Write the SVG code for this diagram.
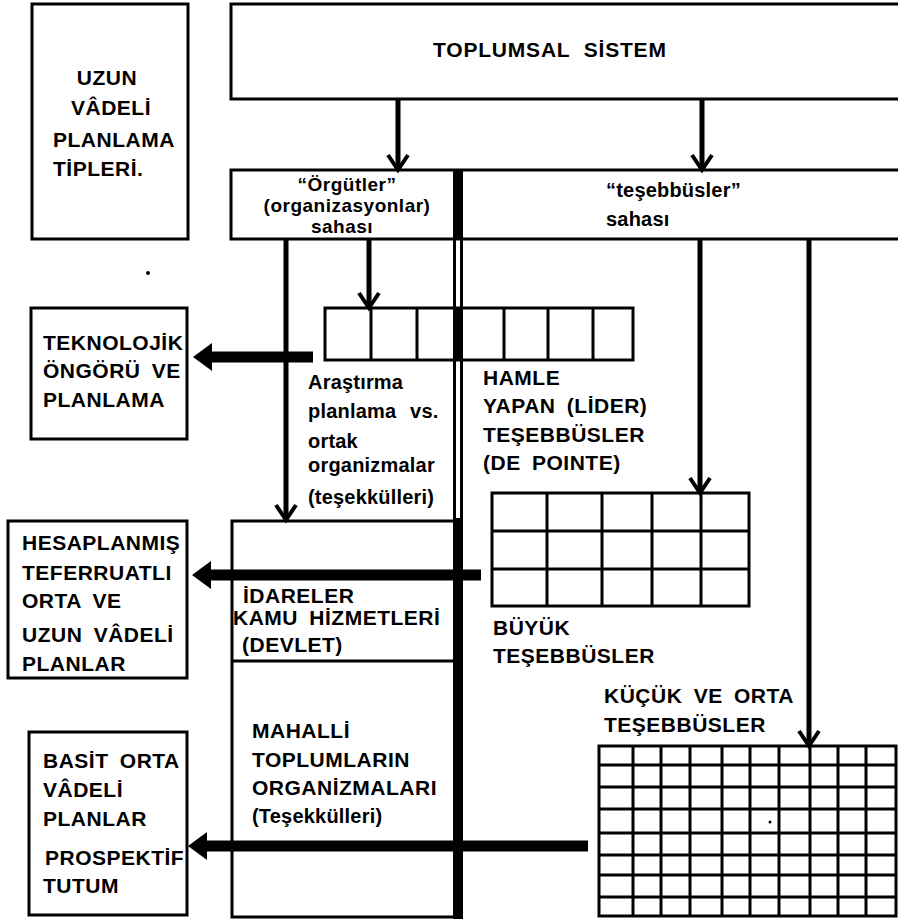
<svg xmlns="http://www.w3.org/2000/svg" width="898" height="919" viewBox="0 0 898 919">
<style>
.bx{fill:#fff;stroke:#000;stroke-width:3}
.ln{fill:none;stroke:#000;stroke-width:3}
.cn{fill:none;stroke:#000;stroke-width:5}
.th{fill:none;stroke:#000;stroke-width:11}
.t{font-family:"Liberation Sans",Arial,sans-serif;font-weight:bold;font-size:21px;letter-spacing:0.5px;word-spacing:5px;fill:#000}
.lc{font-size:20px;letter-spacing:0.2px;word-spacing:2px}
.sm{font-size:19px;letter-spacing:0.5px}
</style>
<defs>
<marker id="v" markerUnits="userSpaceOnUse" markerWidth="40" markerHeight="40" refX="0" refY="0" orient="auto" overflow="visible">
<path d="M-15,-10 L0,0 L-15,10" fill="none" stroke="#000" stroke-width="4"/>
</marker>
<marker id="big" markerUnits="userSpaceOnUse" markerWidth="40" markerHeight="40" refX="0" refY="0" orient="auto" overflow="visible">
<path d="M13,0 L-6,-14 L-6,14 Z" fill="#000"/>
</marker>
</defs>
<rect width="898" height="919" fill="#fff"/>

<g id="uzun">
<rect class="bx" x="32" y="4" width="156" height="235"/>
<text class="t" x="107" y="85" text-anchor="middle">UZUN</text>
<text class="t" x="111" y="115" text-anchor="middle">VÂDELİ</text>
<text class="t" x="53" y="147">PLANLAMA</text>
<text class="t" x="53" y="176">TİPLERİ.</text>
</g>

<g id="toplumsal">
<rect class="bx" x="231" y="4" width="700" height="95"/>
<text class="t" x="433" y="57" style="letter-spacing:0.8px;word-spacing:7px">TOPLUMSAL SİSTEM</text>
</g>

<g id="sahalar">
<rect class="bx" x="231" y="170" width="700" height="69"/>
<text class="t lc sm" x="347" y="191" text-anchor="middle">“Örgütler”</text>
<text class="t lc sm" x="347" y="212" text-anchor="middle">(organizasyonlar)</text>
<text class="t lc sm" x="342" y="233" text-anchor="middle">sahası</text>
<text class="t lc" x="606" y="197">“teşebbüsler”</text>
<text class="t lc" x="606" y="226">sahası</text>
</g>

<g id="arastirma">
<rect class="bx" x="325" y="308" width="308" height="52"/>
<path class="ln" d="M371,308V360M417,308V360M504,308V360M548,308V360M593,308V360"/>
<text class="t lc" x="308" y="389">Araştırma</text>
<text class="t lc" x="308" y="418" style="word-spacing:8px">planlama vs.</text>
<text class="t lc" x="308" y="448">ortak</text>
<text class="t lc" x="308" y="472">organizmalar</text>
<text class="t lc" x="308" y="504">(teşekkülleri)</text>
</g>

<g id="hamle">
<text class="t" x="483" y="385">HAMLE</text>
<text class="t" x="483" y="413">YAPAN (LİDER)</text>
<text class="t" x="483" y="442">TEŞEBBÜSLER</text>
<text class="t" x="483" y="470">(DE POINTE)</text>
</g>

<g id="teknolojik">
<rect class="bx" x="31" y="308" width="156" height="131"/>
<text class="t" x="43" y="350">TEKNOLOJİK</text>
<text class="t" x="43" y="378">ÖNGÖRÜ VE</text>
<text class="t" x="43" y="407">PLANLAMA</text>
</g>

<g id="hesaplanmis">
<rect class="bx" x="8" y="521" width="179" height="157"/>
<text class="t" x="22" y="550">HESAPLANMIŞ</text>
<text class="t" x="22" y="580">TEFERRUATLI</text>
<text class="t" x="22" y="608">ORTA VE</text>
<text class="t" x="22" y="642">UZUN VÂDELİ</text>
<text class="t" x="22" y="671">PLANLAR</text>
</g>

<g id="idareler">
<rect class="bx" x="232" y="521" width="225" height="396"/>
<path class="ln" d="M232,661H456"/>
<text class="t" x="243" y="603">İDARELER</text>
<text class="t" x="233" y="625">KAMU HİZMETLERİ</text>
<text class="t" x="242" y="652">(DEVLET)</text>
<text class="t" x="252" y="738">MAHALLİ</text>
<text class="t" x="252" y="767">TOPLUMLARIN</text>
<text class="t" x="252" y="795">ORGANİZMALARI</text>
<text class="t lc" x="252" y="823">(Teşekkülleri)</text>
</g>

<g id="basit">
<rect class="bx" x="29" y="732" width="158" height="183"/>
<text class="t" x="43" y="768">BASİT ORTA</text>
<text class="t" x="43" y="797">VÂDELİ</text>
<text class="t" x="43" y="826">PLANLAR</text>
<text class="t" x="45" y="865">PROSPEKTİF</text>
<text class="t" x="43" y="893">TUTUM</text>
</g>

<g id="buyuk">
<rect class="bx" x="492" y="493" width="257" height="113"/>
<path class="ln" d="M547,493V606M602,493V606M652,493V606M701,493V606M492,531H749M492,569H749"/>
<text class="t" x="493" y="635">BÜYÜK</text>
<text class="t" x="493" y="663">TEŞEBBÜSLER</text>
</g>

<g id="kucuk">
<rect class="bx" x="599" y="746" width="297" height="170"/>
<path class="ln" d="M633,746V916M661,746V916M690,746V916M722,746V916M750,746V916M779,746V916M810,746V916M838,746V916M866,746V916M599,765H896M599,787H896M599,809H896M599,833H896M599,855H896M599,875H896M599,897H896"/>
<text class="t" x="604" y="703">KÜÇÜK VE ORTA</text>
<text class="t" x="604" y="732">TEŞEBBÜSLER</text>
</g>

<g id="divider">
<path class="ln" d="M454.5,170V919M461.5,170V919"/>
<rect x="453" y="170" width="10" height="69" fill="#000"/>
<rect x="453" y="307" width="10" height="53" fill="#000"/>
<rect x="453" y="518" width="10" height="401" fill="#000"/>
</g>

<g id="connectors">
<path class="cn" d="M398,99V170" marker-end="url(#v)"/>
<path class="cn" d="M702,99V170" marker-end="url(#v)"/>
<path class="cn" d="M369,239V308" marker-end="url(#v)"/>
<path class="cn" d="M286,239V520" marker-end="url(#v)"/>
<path class="cn" d="M700,239V493" marker-end="url(#v)"/>
<path class="cn" d="M809,239V746" marker-end="url(#v)"/>
<path class="th" d="M313,357H206" marker-end="url(#big)"/>
<path class="th" d="M481,575H205" marker-end="url(#big)"/>
<path class="th" d="M588,846H201" marker-end="url(#big)"/>
</g>

<circle cx="148" cy="273" r="2" fill="#000"/>
<circle cx="770" cy="822" r="1.5" fill="#000"/>
</svg>
